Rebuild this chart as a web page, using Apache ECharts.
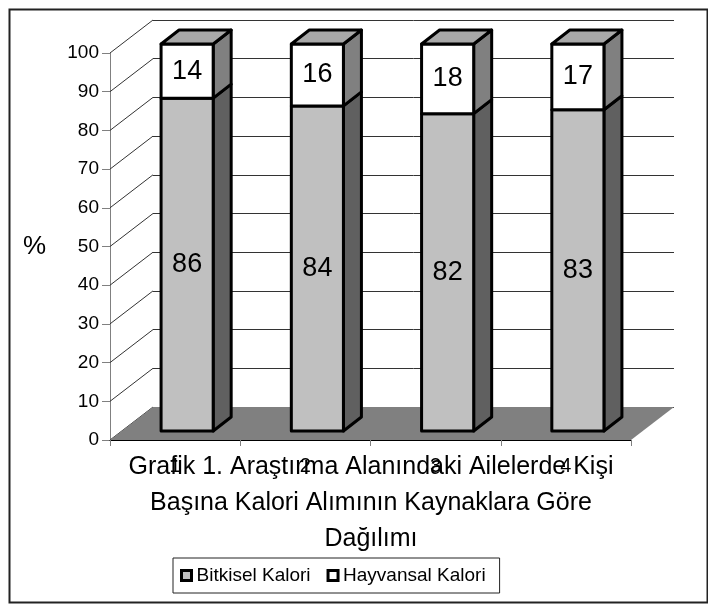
<!DOCTYPE html>
<html>
<head>
<meta charset="utf-8">
<script src="https://cdn.jsdelivr.net/npm/echarts@6/dist/echarts.min.js"></script>
<style>
    html, body { margin: 0; padding: 0; background: #fff; }
    #myChart { width: 708px; height: 604px; }
</style>
</head>
<body>
<div id="myChart"></div>
<script>
const categories = ['1', '2', '3', '4']
const bitkisel = [86, 84, 82, 83]
const hayvansal = [14, 16, 18, 17]
const yTicks = [0, 10, 20, 30, 40, 50, 60, 70, 80, 90, 100]
const titleLines = ['Grafik 1. Araştırma Alanındaki Ailelerde Kişi', 'Başına Kalori Alımının Kaynaklara Göre', 'Dağılımı']
const seriesNames = ['Bitkisel Kalori', 'Hayvansal Kalori']

const font = '"Liberation Sans", Arial, sans-serif'
// pseudo 3d offsets in px
const wallDx = 43, wallDy = -33     // depth of the floor / back wall
const barDx = 12, barDy = -9        // bars stand a bit behind the front plane
const depthDx = 18, depthDy = -14   // depth of one bar
const barRatio = 0.4

const outline = { stroke: '#000', lineWidth: 3, lineJoin: 'round' }

function barSegment (faceColor, sideColor, withTop) {
    return function (params, api) {
        const i = api.value(0)
        const lo = api.value(1)
        const hi = api.value(2)
        const band = api.size([1, 0])[0]
        const b = api.coord([i, lo])
        const t = api.coord([i, hi])
        const w = band * barRatio
        const x0 = b[0] - w / 2 + barDx
        const x1 = x0 + w
        const yb = b[1] + barDy
        const yt = t[1] + barDy
        const children = [{
            type: 'polygon',
            shape: { points: [[x1, yb], [x1 + depthDx, yb + depthDy], [x1 + depthDx, yt + depthDy], [x1, yt]] },
            style: Object.assign({ fill: sideColor }, outline)
        }, {
            type: 'rect',
            shape: { x: x0, y: yt, width: w, height: yb - yt },
            style: Object.assign({ fill: faceColor }, outline)
        }]
        if (withTop) {
            children.push({
                type: 'polygon',
                shape: { points: [[x0, yt], [x0 + depthDx, yt + depthDy], [x1 + depthDx, yt + depthDy], [x1, yt]] },
                style: Object.assign({ fill: '#a8a8a8' }, outline)
            })
        }
        children.push({
            type: 'text',
            style: {
                text: String(hi - lo),
                x: (x0 + x1) / 2,
                y: (yb + yt) / 2,
                align: 'center',
                verticalAlign: 'middle',
                fontSize: 27,
                fontFamily: font,
                fill: '#000'
            }
        })
        return { type: 'group', children: children }
    }
}

const myChart = echarts.init(document.getElementById('myChart'))
myChart.setOption({
    animation: false,
    backgroundColor: '#fff',
    title: {
        text: titleLines.join('\n'),
        left: 371,
        top: 449,
        padding: 0,
        textAlign: 'center',
        textStyle: { fontSize: 25, lineHeight: 36, fontWeight: 'normal', color: '#000', fontFamily: font }
    },
    legend: {
        left: 173,
        top: 558,
        padding: [8, 14, 8, 7],
        itemGap: 16,
        itemWidth: 10,
        itemHeight: 10,
        icon: 'rect',
        borderColor: '#222',
        borderWidth: 1,
        textStyle: { fontSize: 19, color: '#000', fontFamily: font },
        data: [
            { name: seriesNames[0], itemStyle: { color: '#c0c0c0', borderColor: '#000', borderWidth: 3 } },
            { name: seriesNames[1], itemStyle: { color: '#fff', borderColor: '#000', borderWidth: 3 } }
        ]
    },
    graphic: [{
        type: 'rect',
        left: 7,
        top: 7,
        shape: { width: 698, height: 593 },
        style: { fill: 'none', stroke: '#222', lineWidth: 2 },
        silent: true
    }],
    grid: [
        { left: 110, right: 77, top: 53, bottom: 164 },
        { left: 110 + wallDx, right: 77 - wallDx, top: 53 + wallDy, bottom: 164 - wallDy }
    ],
    xAxis: [{
        type: 'category',
        data: categories,
        z: 10,
        axisLine: { lineStyle: { color: '#000', width: 1 } },
        axisTick: { show: true, length: 6, lineStyle: { color: '#808080' } },
        axisLabel: { fontSize: 20, color: '#000', fontFamily: font, margin: 16 }
    }, {
        type: 'category',
        gridIndex: 1,
        data: categories,
        show: false
    }],
    yAxis: [{
        type: 'value',
        min: 0,
        max: 100,
        interval: 10,
        name: '%',
        nameLocation: 'middle',
        nameRotate: 0,
        nameGap: 64,
        nameTextStyle: { fontSize: 26, color: '#000', fontFamily: font },
        axisLine: { show: true, lineStyle: { color: '#808080' } },
        axisTick: { show: true, length: 8, lineStyle: { color: '#808080' } },
        axisLabel: { fontSize: 19, color: '#000', fontFamily: font, margin: 11 },
        splitLine: { show: false }
    }, {
        type: 'value',
        gridIndex: 1,
        min: 0,
        max: 100,
        interval: 10,
        axisLine: { show: false },
        axisTick: { show: false },
        axisLabel: { show: false },
        splitLine: { show: true, lineStyle: { color: '#333', width: 1 } }
    }],
    series: [{
        // slanted lines from the value axis to the back wall
        type: 'custom',
        silent: true,
        z: 1,
        data: yTicks.map(v => [0, v]),
        renderItem: function (params, api) {
            const y = api.coord([0, api.value(1)])[1]
            const x = params.coordSys.x
            return {
                type: 'line',
                shape: { x1: x, y1: y, x2: x + wallDx, y2: y + wallDy },
                style: { stroke: '#333', lineWidth: 1 }
            }
        }
    }, {
        // floor
        type: 'custom',
        silent: true,
        z: 2,
        data: [[0, 0]],
        renderItem: function (params, api) {
            const y = api.coord([0, 0])[1]
            const x = params.coordSys.x
            const w = params.coordSys.width
            return {
                type: 'polygon',
                shape: { points: [[x, y], [x + w, y], [x + w + wallDx, y + wallDy], [x + wallDx, y + wallDy]] },
                style: { fill: '#808080' }
            }
        }
    }, {
        name: seriesNames[0],
        type: 'custom',
        z: 3,
        itemStyle: { color: '#c0c0c0' },
        data: bitkisel.map((v, i) => [i, 0, v]),
        renderItem: barSegment('#c0c0c0', '#606060', false)
    }, {
        name: seriesNames[1],
        type: 'custom',
        z: 3,
        itemStyle: { color: '#fff' },
        data: hayvansal.map((v, i) => [i, bitkisel[i], bitkisel[i] + v]),
        renderItem: barSegment('#fff', '#808080', true)
    }]
})
</script>
</body>
</html>
